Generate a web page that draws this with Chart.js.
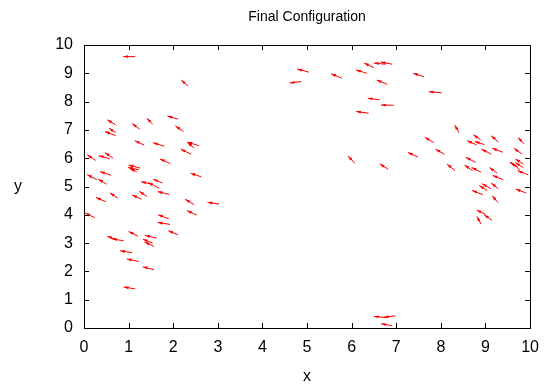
<!DOCTYPE html>
<html>
<head>
<meta charset="utf-8">
<script src="https://cdn.jsdelivr.net/npm/chart.js@4.4.1/dist/chart.umd.min.js"></script>
<style>
  html, body { margin: 0; padding: 0; background: #fff; }
</style>
</head>
<body>
<canvas id="c" width="549" height="388"></canvas>
<script>
// vector tails (x, y) and components (dx, dy)
const xs = [1.15, 2.33, 0.71, 1.25, 1.54, 2.11, 0.71, 0.71, 2.23, 1.35,
            1.80, 2.58, 2.47, 2.40, 0.26, 0.58, 0.65, 1.94, 1.26, 1.23,
            1.18, 2.63, 0.29, 0.60, 0.51, 1.52, 1.68, 1.76, 0.49, 0.76,
            1.29, 1.41, 1.91, 2.47, 3.03, 0.24, 2.53, 1.90, 1.93, 1.21,
            2.11, 0.74, 0.89, 1.63, 1.54, 1.57, 1.08, 1.23, 1.57, 1.15,
            4.87, 5.04, 5.78, 6.50, 6.76, 6.91, 6.34, 6.80, 7.62, 8.02,
            6.63, 6.94, 6.38, 6.07, 6.82, 7.49, 6.76, 6.98, 6.91,
            8.41, 7.84, 8.89, 8.80, 8.98, 9.29, 9.86, 8.08, 9.13, 9.39,
            9.82, 8.78, 9.85, 9.72, 9.77, 9.85, 8.32, 8.71, 8.90, 9.26,
            9.96, 9.40, 9.13, 9.04, 9.29, 8.94, 9.91, 9.28, 9.00, 9.15, 8.90];
const ys = [9.59, 8.55, 7.18, 7.02, 7.20, 7.38, 6.90, 6.80, 6.94, 6.46,
            6.42, 6.44, 6.35, 6.14, 5.92, 5.98, 6.00, 5.81, 5.65, 5.59,
            5.52, 5.34, 5.24, 5.40, 5.08, 5.08, 4.94, 5.12, 4.46, 4.59,
            4.55, 4.65, 4.72, 4.36, 4.38, 3.90, 3.99, 3.86, 3.66, 3.25,
            3.29, 3.12, 3.08, 3.18, 3.00, 2.88, 2.66, 2.35, 2.06, 1.38,
            8.71, 9.04, 8.83, 9.20, 9.32, 9.32, 9.00, 8.61, 8.88, 8.31,
            8.06, 7.87, 7.59, 5.82, 5.61, 6.04, 0.37, 0.43, 0.08,
            6.90, 6.55, 6.65, 6.47, 6.48, 6.57, 6.51, 6.14, 6.14, 6.21,
            6.14, 5.85, 5.79, 5.70, 5.59, 5.66, 5.56, 5.56, 5.51, 5.47,
            5.41, 5.24, 4.92, 4.86, 4.92, 4.71, 4.77, 4.43, 4.02, 3.80, 3.67];
const dxs = [-0.27, -0.15, -0.19, -0.17, -0.13, -0.24, -0.15, -0.24, -0.18, -0.21,
             -0.25, -0.26, -0.15, -0.23, -0.19, -0.25, -0.18, -0.24, -0.26, -0.24,
             -0.15, -0.24, -0.22, -0.24, -0.19, -0.24, -0.24, -0.21, -0.22, -0.18,
             -0.21, -0.17, -0.26, -0.20, -0.26, -0.21, -0.22, -0.24, -0.28, -0.21,
             -0.22, -0.22, -0.26, -0.26, -0.22, -0.21, -0.27, -0.27, -0.25, -0.26,
             -0.26, -0.26, -0.24, -0.22, -0.26, -0.26, -0.24, -0.24, -0.24, -0.29,
             -0.27, -0.28, -0.28, -0.15, -0.19, -0.23, -0.26, -0.26, -0.25,
             -0.10, -0.20, -0.16, -0.21, -0.22, -0.16, -0.13, -0.20, -0.22, -0.24,
             -0.18, -0.22, -0.18, -0.18, -0.19, -0.18, -0.18, -0.18, -0.21, -0.17,
             -0.24, -0.24, -0.21, -0.18, -0.16, -0.24, -0.23, -0.13, -0.20, -0.18, -0.09];
const dys = [0.00, 0.21, 0.18, 0.21, 0.21, 0.11, 0.16, 0.14, 0.20, 0.16,
             0.13, 0.13, 0.21, 0.18, 0.20, 0.11, 0.20, 0.16, 0.11, 0.08,
             0.11, 0.13, 0.18, 0.13, 0.18, 0.09, 0.20, 0.14, 0.15, 0.18,
             0.15, 0.18, 0.10, 0.19, 0.06, 0.16, 0.16, 0.14, 0.07, 0.16,
             0.15, 0.12, 0.07, 0.09, 0.14, 0.16, 0.07, 0.09, 0.10, 0.07,
             -0.05, 0.11, 0.15, 0.16, 0.04, 0.08, 0.12, 0.15, 0.12, 0.04,
             0.06, 0.01, 0.06, 0.26, 0.19, 0.16, 0.04, -0.05, 0.07,
             0.27, 0.19, 0.18, 0.15, 0.11, 0.22, 0.22, 0.18, 0.18, 0.14,
             0.21, 0.18, 0.18, 0.16, 0.25, 0.19, 0.23, 0.20, 0.16, 0.20,
             0.15, 0.15, 0.18, 0.17, 0.20, 0.15, 0.14, 0.24, 0.15, 0.20, 0.27];

const xTicks = [0, 1, 2, 3, 4, 5, 6, 7, 8, 9, 10];
const yTicks = [0, 1, 2, 3, 4, 5, 6, 7, 8, 9, 10];
const titleText = 'Final Configuration';
const xLabel = 'x';
const yLabel = 'y';

const FONT = "'Liberation Sans', Arial, sans-serif";

// gnuplot-ish frame, inward ticks, arrows and labels
const vectors = {
  id: 'vectors',
  afterDatasetsDraw(chart) {
    const { ctx, chartArea: a, scales: { x, y } } = chart;
    ctx.save();

    ctx.strokeStyle = '#ff0000';
    ctx.fillStyle = '#ff0000';
    ctx.lineWidth = 1;
    for (let i = 0; i < xs.length; i++) {
      const x0 = x.getPixelForValue(xs[i]), y0 = y.getPixelForValue(ys[i]);
      const x1 = x.getPixelForValue(xs[i] + dxs[i]), y1 = y.getPixelForValue(ys[i] + dys[i]);
      const ang = Math.atan2(y1 - y0, x1 - x0);
      ctx.beginPath(); ctx.moveTo(x0, y0); ctx.lineTo(x1, y1); ctx.stroke();
      ctx.beginPath();
      ctx.moveTo(x1, y1);
      ctx.lineTo(x1 - 5 * Math.cos(ang - 0.3), y1 - 5 * Math.sin(ang - 0.3));
      ctx.lineTo(x1 - 5 * Math.cos(ang + 0.3), y1 - 5 * Math.sin(ang + 0.3));
      ctx.closePath();
      ctx.fill();
    }

    // frame
    ctx.strokeStyle = '#000';
    ctx.lineWidth = 1;
    ctx.strokeRect(Math.round(a.left) + 0.5, Math.round(a.top) + 0.5,
                   Math.round(a.right - a.left), Math.round(a.bottom - a.top));
    // inward ticks on all four sides
    ctx.beginPath();
    xTicks.forEach(v => {
      const px = Math.round(x.getPixelForValue(v)) + 0.5;
      ctx.moveTo(px, a.bottom); ctx.lineTo(px, a.bottom - 5);
      ctx.moveTo(px, a.top); ctx.lineTo(px, a.top + 5);
    });
    yTicks.forEach(v => {
      const py = Math.round(y.getPixelForValue(v)) + 0.5;
      ctx.moveTo(a.left, py); ctx.lineTo(a.left + 5, py);
      ctx.moveTo(a.right, py); ctx.lineTo(a.right - 5, py);
    });
    ctx.stroke();

    // title and axis labels
    ctx.fillStyle = '#000';
    ctx.textAlign = 'center';
    ctx.textBaseline = 'middle';
    const cx = (a.left + a.right) / 2;
    ctx.font = '14px ' + FONT;
    ctx.fillText(titleText, cx, 17);
    ctx.font = '16px ' + FONT;
    ctx.fillText(xLabel, cx, 377);
    ctx.fillText(yLabel, 18, (a.top + a.bottom) / 2);
    ctx.restore();
  }
};

new Chart(document.getElementById('c'), {
  type: 'scatter',
  data: {
    datasets: [{
      data: xs.map((v, i) => ({ x: v, y: ys[i] })),
      pointRadius: 0,
      showLine: false
    }]
  },
  options: {
    responsive: false,
    animation: false,
    layout: { padding: { top: 45, right: 12, left: 0, bottom: 0 } },
    plugins: { legend: { display: false }, tooltip: { enabled: false }, title: { display: false } },
    scales: {
      x: {
        type: 'linear', min: 0, max: 10,
        afterBuildTicks: s => { s.ticks = xTicks.map(v => ({ value: v })); },
        afterFit: s => { s.height = 60; },
        grid: { drawOnChartArea: false, drawTicks: false },
        border: { display: false },
        ticks: { color: '#000', padding: 10, font: { family: FONT, size: 16 }, maxRotation: 0 }
      },
      y: {
        type: 'linear', min: 0, max: 10,
        afterBuildTicks: s => { s.ticks = yTicks.map(v => ({ value: v })); },
        afterFit: s => { s.width = 84; },
        grid: { drawOnChartArea: false, drawTicks: false },
        border: { display: false },
        ticks: { color: '#000', padding: 11, font: { family: FONT, size: 16 } }
      }
    }
  },
  plugins: [vectors]
});
</script>
</body>
</html>
